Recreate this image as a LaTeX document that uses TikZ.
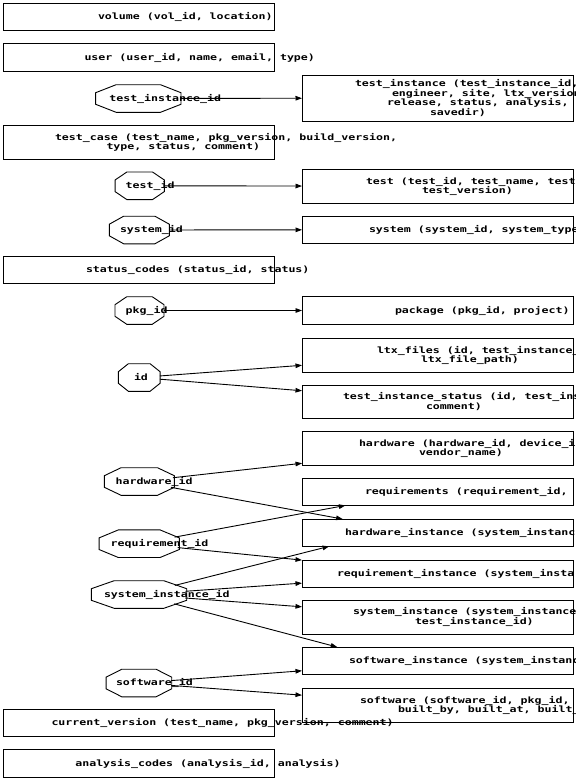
\documentclass[tikz,border=0pt]{standalone}
\usepackage{fontspec}
\usepackage{graphicx}
\newfontfamily\dotfont{DejaVu Sans Mono}
\usetikzlibrary{arrows.meta, shapes.geometric, calc}

% one text line, shifted from the node centre, squeezed vertically
\newcommand{\tline}[2]{\makebox[0pt][l]{\hspace*{#1pt}\scalebox{1}[0.75]{#2}}}

\begin{document}
\begin{tikzpicture}[
  x=1pt, y=-1pt,
  every node/.style={font=\dotfont\fontsize{11.6}{9.4}\selectfont\bfseries},
  tbl/.style={rectangle, draw, line width=0.9pt,
              minimum width=271pt, minimum height=#1,
              inner sep=0pt, outer sep=0pt, align=left},
  tbl/.default=27.3pt,
  fkey/.style={ellipse, minimum width=#1, minimum height=27.6pt,
               inner sep=0pt, outer sep=0pt, align=left},
  arr/.style={-{Triangle[length=6.5pt, width=4.6pt]}, line width=0.9pt},
  octa/.style={line width=0.9pt},
]
\useasboundingbox (0,0) rectangle (576,780);

%% -- Column positions ---------------------------------
\def\lx{138.5}  % left table column x
\def\rx{437.5}  % right table column x

%% -- Left tables --------------------------------------
\node[tbl] (vol)    at (\lx,17)    {\tline{-40.5}{volume (vol\_id, location)}};
\node[tbl] (user)   at (\lx,57.5)  {\tline{-54}{user (user\_id, name, email, type)}};
\node[tbl=33.5pt] (tcase) at (\lx,142.3)
  {\tline{-83.5}{test\_case (test\_name, pkg\_version, build\_version,}\\
   \tline{-32}{type, status, comment)}};
\node[tbl] (status) at (\lx,269.7) {\tline{-52.5}{status\_codes (status\_id, status)}};
\node[tbl] (curver) at (\lx,723)   {\tline{-87}{current\_version (test\_name, pkg\_version, comment)}};
\node[tbl] (anl)    at (\lx,763.5) {\tline{-63.2}{analysis\_codes (analysis\_id, analysis)}};

%% -- Right tables -------------------------------------
\node[tbl=46pt] (tinst) at (\rx,98)
  {\tline{-82.5}{test\_instance (test\_instance\_id,}\\
   \tline{-45.5}{engineer, site, ltx\_version}\\
   \tline{-50.5}{release, status, analysis,}\\
   \tline{-7.5}{savedir)}};
\node[tbl=34.3pt] (test) at (\rx,186.2)
  {\tline{-71.5}{test (test\_id, test\_name, test}\\
   \tline{-15.5}{test\_version)}};
\node[tbl] (sys) at (\rx,229.7) {\tline{-68.5}{system (system\_id, system\_type}};
\node[tbl] (pkg) at (\rx,310.5) {\tline{-42.5}{package (pkg\_id, project)}};
\node[tbl=33.7pt] (ltx) at (\rx,355.2)
  {\tline{-60.5}{ltx\_files (id, test\_instance\_}\\
   \tline{-16.5}{ltx\_file\_path)}};
\node[tbl=33.3pt] (tistat) at (\rx,401.7)
  {\tline{-94.5}{test\_instance\_status (id, test\_ins}\\
   \tline{-11.5}{comment)}};
\node[tbl=33.7pt] (hw) at (\rx,448.2)
  {\tline{-78.5}{hardware (hardware\_id, device\_i}\\
   \tline{-18.5}{vendor\_name)}};
\node[tbl] (req)     at (\rx,491.8) {\tline{-72.5}{requirements (requirement\_id,}};
\node[tbl] (hwinst)  at (\rx,532.7) {\tline{-92.5}{hardware\_instance (system\_instanc}};
\node[tbl] (reqinst) at (\rx,573.7) {\tline{-100.5}{requirement\_instance (system\_insta}};
\node[tbl=34pt] (sinst) at (\rx,617)
  {\tline{-84.5}{system\_instance (system\_instance}\\
   \tline{-22.5}{test\_instance\_id)}};
\node[tbl] (swinst)  at (\rx,660.7) {\tline{-88.5}{software\_instance (system\_instanc}};
\node[tbl=33.7pt] (sw) at (\rx,705.2)
  {\tline{-77.5}{software (software\_id, pkg\_id,}\\
   \tline{-39.5}{built\_by, built\_at, built\_}};

%% -- Key nodes ----------------------------------------
\node[fkey=85.3pt] (tiid)   at (138.3,98.5)  {\tline{-29}{test\_instance\_id}};
\node[fkey=49.3pt] (testid) at (139.7,185.8) {\tline{-14}{test\_id}};
\node[fkey=60pt]   (sysid)  at (139.3,230)   {\tline{-19.3}{system\_id}};
\node[fkey=49pt]   (pkgid)  at (139.5,310.5) {\tline{-13.8}{pkg\_id}};
\node[fkey=41.7pt] (idkey)  at (139.2,377.5) {\tline{-5.2}{id}};
\node[fkey=70pt]   (hwid)   at (139.3,481.5) {\tline{-23.6}{hardware\_id}};
\node[fkey=80.3pt] (reqid)  at (139.2,543.7) {\tline{-28.5}{requirement\_id}};
\node[fkey=95.4pt] (siid)   at (139,594.5)   {\tline{-35}{system\_instance\_id}};
\node[fkey=65.7pt] (swid)   at (138.9,683)   {\tline{-22.9}{software\_id}};

% octagon outlines round the key nodes
\foreach \k in {tiid,testid,sysid,pkgid,idkey,hwid,reqid,siid,swid}
  \draw[octa] ($(\k.north)!.52!(\k.north -| \k.west)$)
    -- ($(\k.north)!.52!(\k.north -| \k.east)$)
    -- ($(\k.east)!.42!(\k.east |- \k.north)$)
    -- ($(\k.east)!.42!(\k.east |- \k.south)$)
    -- ($(\k.south)!.52!(\k.south -| \k.east)$)
    -- ($(\k.south)!.52!(\k.south -| \k.west)$)
    -- ($(\k.west)!.42!(\k.west |- \k.south)$)
    -- ($(\k.west)!.42!(\k.west |- \k.north)$) -- cycle;

%% -- Key references -----------------------------------
\draw[arr] (tiid)   -- (tinst);
\draw[arr] (testid) -- (test);
\draw[arr] (sysid)  -- (sys);
\draw[arr] (pkgid)  -- (pkg);
\draw[arr] (idkey)  -- (ltx);
\draw[arr] (idkey)  -- (tistat);
\draw[arr] (hwid)   -- (hw);
\draw[arr] (hwid)   -- ($(hwinst.north west)!.15!(hwinst.north east)$);
\draw[arr] (reqid)  -- ($(req.south west)!.16!(req.south east)$);
\draw[arr] (reqid)  -- (reqinst);
\draw[arr] (siid)   -- ($(hwinst.south west)!.10!(hwinst.south east)$);
\draw[arr] (siid)   -- (reqinst);
\draw[arr] (siid)   -- (sinst);
\draw[arr] (siid)   -- ($(swinst.north west)!.13!(swinst.north east)$);
\draw[arr] (swid)   -- (swinst);
\draw[arr] (swid)   -- (sw);

\end{tikzpicture}
\end{document}
